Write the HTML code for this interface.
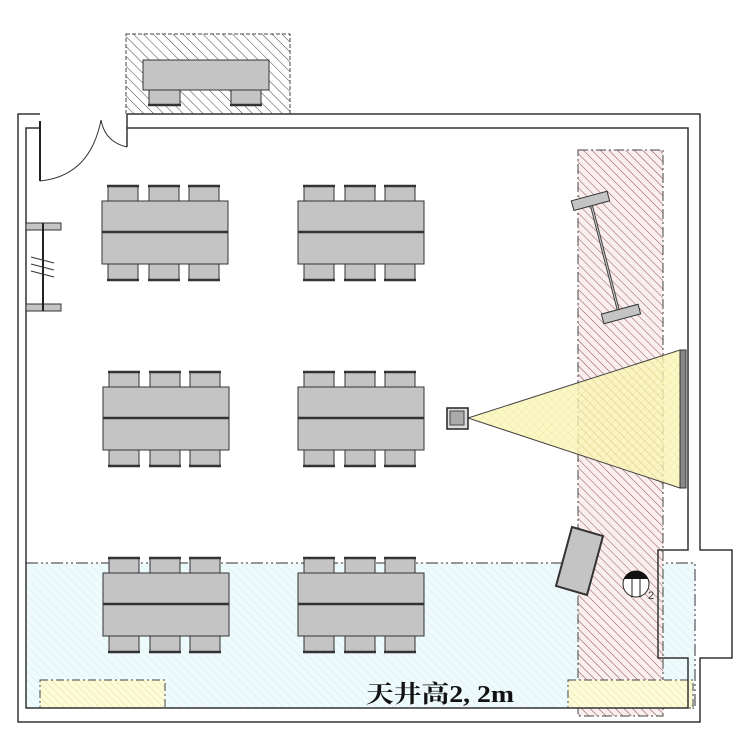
<!DOCTYPE html>
<html><head><meta charset="utf-8"><style>html,body{margin:0;padding:0;background:#fff}svg{display:block}</style></head><body>
<svg width="750" height="750" viewBox="0 0 750 750" xmlns="http://www.w3.org/2000/svg">
<defs>
<pattern id="hk" width="7" height="7" patternUnits="userSpaceOnUse" patternTransform="rotate(-45)"><line x1="0" y1="0" x2="0" y2="7" stroke="#444" stroke-width="1"/></pattern>
<pattern id="hp" width="6" height="6" patternUnits="userSpaceOnUse" patternTransform="rotate(-45)"><rect width="6" height="6" fill="#fbeeee"/><line x1="0" y1="0" x2="0" y2="6" stroke="#8a5050" stroke-width="1"/></pattern>
<pattern id="hc" width="6" height="6" patternUnits="userSpaceOnUse" patternTransform="rotate(-45)"><rect width="6" height="6" fill="#eefafb"/><line x1="0" y1="0" x2="0" y2="6" stroke="#d4eef0" stroke-width="1"/></pattern>
<pattern id="hy" width="5" height="5" patternUnits="userSpaceOnUse" patternTransform="rotate(-45)"><rect width="5" height="5" fill="#fdfbd8"/><line x1="0" y1="0" x2="0" y2="5" stroke="#e6e19a" stroke-width="1"/></pattern>
<pattern id="hyx" width="6" height="6" patternUnits="userSpaceOnUse" patternTransform="rotate(45)"><rect width="6" height="6" fill="#fbf6b8"/><line x1="0" y1="0" x2="0" y2="6" stroke="#e8df8a" stroke-width="0.8"/><line x1="0" y1="0" x2="6" y2="0" stroke="#e8df8a" stroke-width="0.8"/></pattern>
<g id="tbl">
  <g fill="#c4c4c4" stroke="#333" stroke-width="1">
    <rect x="6" y="-15" width="30" height="15"/><rect x="47" y="-15" width="30" height="15"/><rect x="87" y="-15" width="30" height="15"/>
    <rect x="6" y="63" width="30" height="16"/><rect x="47" y="63" width="30" height="16"/><rect x="87" y="63" width="30" height="16"/>
  </g>
  <g stroke="#333" stroke-width="2.5">
    <line x1="5" y1="-15" x2="37" y2="-15"/><line x1="46" y1="-15" x2="78" y2="-15"/><line x1="86" y1="-15" x2="118" y2="-15"/>
    <line x1="5" y1="79" x2="37" y2="79"/><line x1="46" y1="79" x2="78" y2="79"/><line x1="86" y1="79" x2="118" y2="79"/>
  </g>
  <rect x="0" y="0" width="126" height="63" fill="#c4c4c4" stroke="#333" stroke-width="1"/>
  <line x1="0" y1="31" x2="126" y2="31" stroke="#333" stroke-width="2.5"/>
</g>
</defs>

<rect x="26" y="563" width="669" height="145" fill="url(#hc)"/>
<rect x="26" y="563" width="669" height="145" fill="none" stroke="#333" stroke-width="1" stroke-dasharray="12,3,2,3,2,3"/>
<rect x="578" y="150" width="85" height="566" fill="url(#hp)" stroke="#444" stroke-width="1" stroke-dasharray="10,3,2,3"/>
<rect x="40" y="680" width="125" height="28" fill="url(#hy)" stroke="#444" stroke-width="1" stroke-dasharray="8,3,2,3"/>
<rect x="568" y="680" width="125" height="28" fill="url(#hy)" stroke="#444" stroke-width="1" stroke-dasharray="8,3,2,3"/>

<rect x="126" y="34" width="164" height="80" fill="url(#hk)" stroke="#444" stroke-width="1" stroke-dasharray="4,2"/>
<rect x="143" y="60" width="126" height="30" fill="#c4c4c4" stroke="#333"/>
<rect x="149" y="90" width="31" height="15" fill="#c4c4c4" stroke="#333"/>
<rect x="231" y="90" width="30" height="15" fill="#c4c4c4" stroke="#333"/>
<line x1="148" y1="105" x2="181" y2="105" stroke="#333" stroke-width="2.5"/>
<line x1="230" y1="105" x2="262" y2="105" stroke="#333" stroke-width="2.5"/>

<g fill="none" stroke="#333" stroke-width="1.5">
  <polyline points="40,114 18,114 18,722 700,722 700,658 732,658 732,550 700,550 700,114 127,114"/>
  <polyline points="40,128 26,128 26,708 688,708 688,658 658,658 658,550 688,550 688,128 127,128"/>
  <line x1="127" y1="114" x2="127" y2="147"/>
</g>
<line x1="40" y1="121" x2="40" y2="181" stroke="#222" stroke-width="2"/>
<path d="M40,181 Q90,176 101,120" fill="none" stroke="#333" stroke-width="1"/>
<path d="M101,120 Q105,142 127,147" fill="none" stroke="#333" stroke-width="1"/>
<rect x="26" y="223" width="35" height="7" fill="#c4c4c4" stroke="#333" stroke-width="1"/>
<rect x="26" y="304" width="35" height="7" fill="#c4c4c4" stroke="#333" stroke-width="1"/>
<line x1="43" y1="223" x2="43" y2="311" stroke="#222" stroke-width="2"/>
<g stroke="#333" stroke-width="1"><line x1="31" y1="257" x2="54" y2="263"/><line x1="31" y1="264" x2="54" y2="270"/><line x1="31" y1="271" x2="54" y2="277"/></g>

<use href="#tbl" x="102" y="201"/>
<use href="#tbl" x="298" y="201"/>
<use href="#tbl" x="103" y="387"/>
<use href="#tbl" x="298" y="387"/>
<use href="#tbl" x="103" y="573"/>
<use href="#tbl" x="298" y="573"/>

<polygon points="468,418 680,350 680,488" fill="url(#hyx)" fill-opacity="0.8" stroke="#444" stroke-width="1"/>
<rect x="680" y="350" width="6" height="138" fill="#888" stroke="#333" stroke-width="1"/>
<rect x="447" y="408" width="21" height="21" fill="#ddd" stroke="#222" stroke-width="1.5"/>
<rect x="450" y="411" width="14" height="14" fill="#aaa" stroke="#444" stroke-width="1"/>

<line x1="590" y1="200" x2="619" y2="313" stroke="#444" stroke-width="3"/>
<line x1="590" y1="200" x2="619" y2="313" stroke="#ccc" stroke-width="1"/>
<rect x="-18" y="-5" width="37" height="10" fill="#c4c4c4" stroke="#333" transform="translate(590,201) rotate(-15)"/>
<rect x="-19" y="-5" width="38" height="10" fill="#c4c4c4" stroke="#333" transform="translate(621,314) rotate(-15)"/>

<polygon points="572,527 603,536 587,595 556,586" fill="#c4c4c4" stroke="#333" stroke-width="2"/>
<circle cx="636" cy="584" r="13" fill="#fff" stroke="#222" stroke-width="1"/>
<path d="M624,579 A13,13 0 0 1 648,579 Z" fill="#111"/>
<g stroke="#222" stroke-width="1"><line x1="632" y1="579" x2="632" y2="597"/><line x1="640" y1="579" x2="640" y2="597"/></g>
<text x="648" y="599" font-family="Liberation Sans, sans-serif" font-size="11" fill="#333">2</text>

<text x="366" y="702" textLength="148" lengthAdjust="spacingAndGlyphs" font-family="'Liberation Serif','Noto Serif CJK SC',serif" font-weight="bold" font-size="24" fill="#111">天井高2, 2m</text>
</svg>
</body></html>
